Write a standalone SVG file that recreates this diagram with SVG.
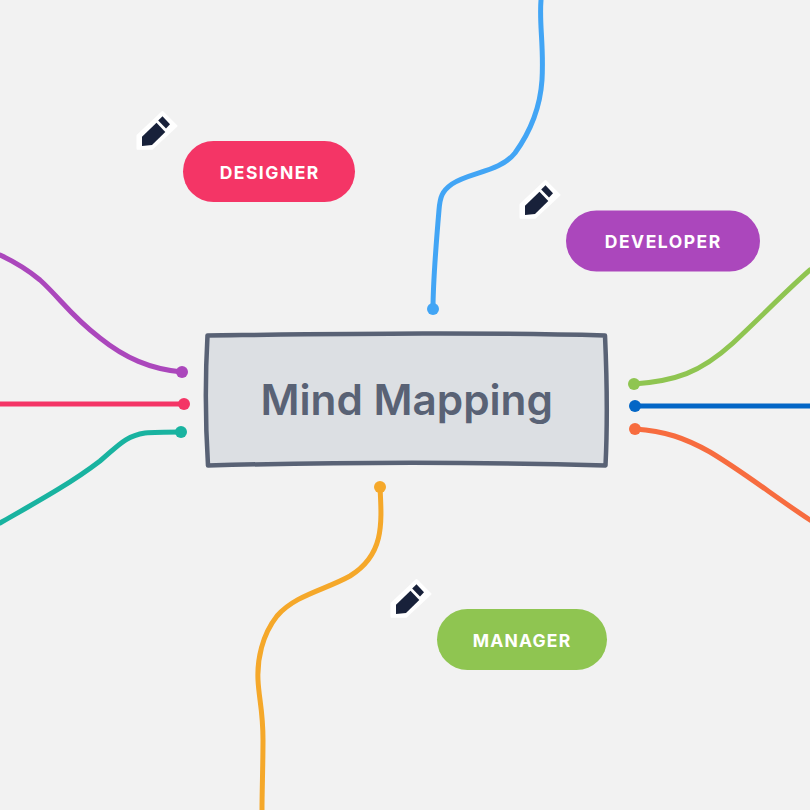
<svg xmlns="http://www.w3.org/2000/svg" width="810" height="810" viewBox="0 0 810 810">
<style>
.bg{fill:#f2f2f2}
.c{fill:none;stroke-width:5;stroke-linecap:round;stroke-linejoin:round}
.pill{font-family:Inter,"Liberation Sans",sans-serif;font-size:17.500px;font-weight:650;letter-spacing:1.500px;fill:#fff;text-anchor:middle}
.title{font-family:Inter,"Liberation Sans",sans-serif;font-size:42.300px;font-weight:600;fill:#596275;text-anchor:middle}
</style>
<defs>
<g id="pencil">
<path d="M137.500 148.700L137.500 135.500L162.500 112L176.500 126L152 148.700Z" fill="#fff" stroke="#fff" stroke-width="2" stroke-linejoin="round"/>
<path d="M142 136.700L156.500 122.700L165.300 132L152 145L142 146Z" fill="#18213a"/>
<path d="M158.200 120.500L162.500 116.300L170 124.300L166 128.500Z" fill="#18213a"/>
</g>
</defs>
<rect class="bg" width="810" height="810"/>
<g id="connectors">
<path class="c" stroke="#42a5f5" d="M541 0C539 25 544 45 542 80C540 110 528 135 515 153C500 172 470 172 452 184C442 191 440 197 439 210C436 245 433 280 433 309"/>
<circle cx="433" cy="309" r="6" fill="#42a5f5"/>
<path class="c" stroke="#ab47bc" d="M0 255C15 262 28 270 40 280C60 298 70 315 100 338C125 358 150 369 182 372"/>
<circle cx="182" cy="372" r="6" fill="#ab47bc"/>
<path class="c" stroke="#f43566" d="M0 404L184 404"/>
<circle cx="184" cy="404" r="6" fill="#f43566"/>
<path class="c" stroke="#19b3a0" d="M0 523C35 503 70 484 100 461C118 446 125 436 145 433C155 432 170 432 181 432"/>
<circle cx="181" cy="432" r="6" fill="#19b3a0"/>
<path class="c" stroke="#8fc551" d="M810 270C785 292 760 318 733 343C700 373 675 381 634 384"/>
<circle cx="634" cy="384" r="6" fill="#8fc551"/>
<path class="c" stroke="#0366c6" d="M810 406L635 406"/>
<circle cx="635" cy="406" r="6" fill="#0366c6"/>
<path class="c" stroke="#f76c3f" d="M635 429C665 431 685 438 710 452C745 473 775 497 810 520"/>
<circle cx="635" cy="429" r="6" fill="#f76c3f"/>
<path class="c" stroke="#f5a82a" d="M380 487C382 525 384 555 350 576C325 590 295 595 277 616C262 635 257 660 258 680C259 700 263 710 263 740C263 765 262 790 262 810"/>
<circle cx="380" cy="487" r="6" fill="#f5a82a"/>
</g>
<g id="center">
<path d="M207.500 335.500C340 334 470 332 605 335.500C607 380 607.500 425 605.500 465.500C470 461.500 340 462 208 465.500C205.500 425 205 380 207.500 335.500Z" fill="#dcdfe3" stroke="#596275" stroke-width="4.500" stroke-linejoin="round"/>
<text class="title" x="406.700" y="415">Mind Mapping</text>
</g>
<g id="designer">
<rect x="183" y="141" width="172" height="61" rx="30.500" fill="#f43566"/>
<text class="pill" x="269.750" y="179">DESIGNER</text>
<use href="#pencil"/>
</g>
<g id="developer">
<rect x="566" y="210.500" width="194" height="61" rx="30.500" fill="#ab47bc"/>
<text class="pill" x="663.250" y="248">DEVELOPER</text>
<use href="#pencil" x="383" y="69"/>
</g>
<g id="manager">
<rect x="437" y="609" width="170" height="61" rx="30.500" fill="#8fc551"/>
<text class="pill" x="522" y="647" style="letter-spacing:1.200px">MANAGER</text>
<use href="#pencil" x="254" y="468"/>
</g>
</svg>
